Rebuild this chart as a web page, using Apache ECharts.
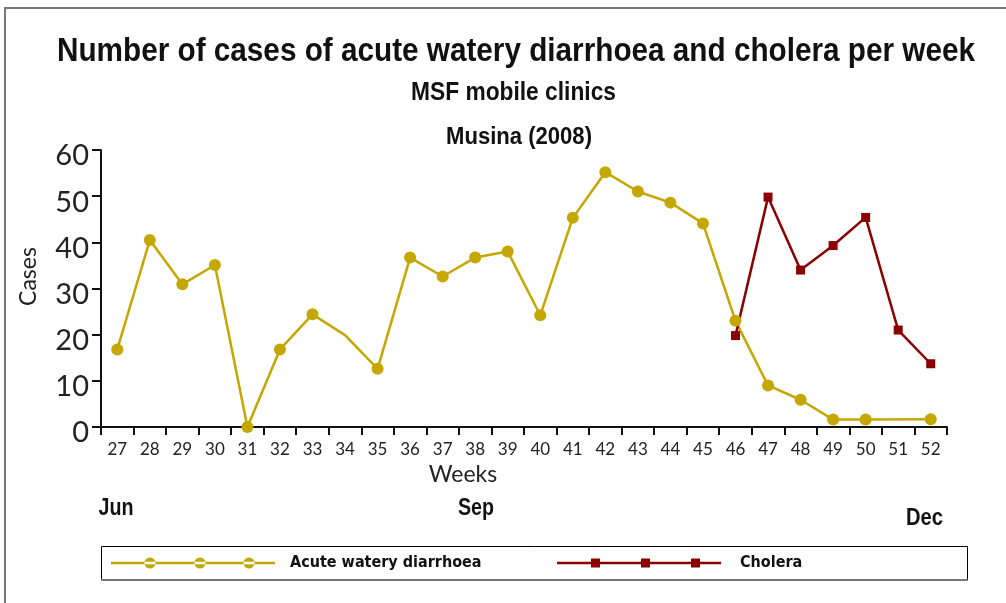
<!DOCTYPE html>
<html>
<head>
<meta charset="utf-8">
<script src="https://cdn.jsdelivr.net/npm/echarts@6/dist/echarts.min.js"></script>
<style>
html,body{margin:0;padding:0;background:#fff;}
#chart{width:1006px;height:603px;}
</style>
</head>
<body>
<div id="chart"></div>
<script>
// ---- data ----
const weeks = ['27','28','29','30','31','32','33','34','35','36','37','38','39','40','41','42','43','44','45','46','47','48','49','50','51','52'];
const acuteDiarrhoea = [16.8, 40.5, 30.9, 35.1, 0, 16.8, 24.4, 19.9, 12.6, 36.7, 32.6, 36.7, 38.0, 24.2, 45.3, 55.2, 51.0, 48.6, 44.1, 23.0, 9.0, 5.9, 1.6, 1.6, null, 1.7];
const acuteNoMarkerWeeks = ['34'];
const cholera = [null, null, null, null, null, null, null, null, null, null, null, null, null, null, null, null, null, null, null, 19.8, 49.8, 34.0, 39.3, 45.4, 21.0, 13.7];
const yTicks = [0, 10, 20, 30, 40, 50, 60];
const monthLabels = ['Jun', 'Sep', 'Dec'];

const titleText = 'Number of cases of acute watery diarrhoea and cholera per week';
const subText = 'MSF mobile clinics';
const placeText = 'Musina (2008)';
const seriesNames = ['Acute watery diarrhoea', 'Cholera'];

const COL_A = '#C4A700';
const COL_C = '#8B0000';
const BOLD = '"Liberation Sans", Arial, sans-serif';
const COND = '"DejaVu Sans Condensed", "DejaVu Sans", sans-serif';
const LIGHT = 'Lato, "Open Sans", sans-serif';

const chart = echarts.init(document.getElementById('chart'), null, {renderer: 'canvas'});

const acuteData = acuteDiarrhoea.map((v, i) =>
  acuteNoMarkerWeeks.includes(weeks[i]) ? {value: v, symbol: 'none'} : v);

// horizontal compression so a narrow-bold look is achieved with available fonts
const mctx = document.createElement('canvas').getContext('2d');
function narrowText(text, size, cx, baseline, targetW) {
  const font = 'bold ' + size + 'px ' + BOLD;
  mctx.font = font;
  const w = mctx.measureText(text).width;
  const s = targetW / w;
  return {type: 'text', x: cx, y: baseline - 0.77 * size, scaleX: s, silent: true,
    style: {text: text, font: font, fill: '#111', align: 'center', verticalAlign: 'top'}};
}

// legend icons (line with three markers)
const iconA = 'path://M0,5L164,5L164,7.5L0,7.5Z' +
  'M33.5,6.25a5.5,5.5 0 1,0 11,0a5.5,5.5 0 1,0 -11,0Z' +
  'M83.5,6.25a5.5,5.5 0 1,0 11,0a5.5,5.5 0 1,0 -11,0Z' +
  'M132.5,6.25a5.5,5.5 0 1,0 11,0a5.5,5.5 0 1,0 -11,0Z';
const iconC = 'path://M0,5L164,5L164,7.5L0,7.5Z' +
  'M34,1.75L43,1.75L43,10.75L34,10.75Z' +
  'M84,1.75L93,1.75L93,10.75L84,10.75Z' +
  'M134,1.75L143,1.75L143,10.75L134,10.75Z' +
  'M0,0.75L0.01,0.75L0.01,11.75L0,11.75Z';

const legendText = {fontFamily: COND, fontWeight: 'bold', fontSize: 16, color: '#111', lineHeight: 20};

const option = {
  backgroundColor: '#fff',
  animation: false,
  grid: {left: 101, right: 59, top: 150, bottom: 176, containLabel: false},
  legend: [
    {data: [{name: seriesNames[0], icon: iconA}], left: 111, top: 553, padding: 0,
     itemWidth: 164, itemHeight: 12, itemGap: 0, selectedMode: false,
     itemStyle: {borderWidth: 0},
     textStyle: Object.assign({padding: [0, 0, 0, 10]}, legendText)},
    {data: [{name: seriesNames[1], icon: iconC}], left: 557, top: 553, padding: 0,
     itemWidth: 164, itemHeight: 12, itemGap: 0, selectedMode: false,
     itemStyle: {borderWidth: 0},
     textStyle: Object.assign({padding: [0, 0, 0, 14]}, legendText)}
  ],
  xAxis: {
    type: 'category', data: weeks, boundaryGap: true,
    name: 'Weeks', nameLocation: 'middle', nameGap: 36,
    nameTextStyle: {fontFamily: LIGHT, fontSize: 23, color: '#222', padding: [0, 122, 0, 0]},
    axisLine: {lineStyle: {color: '#111', width: 2}},
    axisTick: {show: true, length: 8, inside: false, alignWithLabel: false, lineStyle: {color: '#111', width: 2}},
    axisLabel: {fontFamily: LIGHT, fontSize: 17, color: '#222', margin: 14, interval: 0},
    splitLine: {show: false}
  },
  yAxis: {
    type: 'value', min: 0, max: 60, interval: 10,
    name: 'Cases', nameLocation: 'middle', nameGap: 61, nameRotate: 90,
    nameTextStyle: {fontFamily: LIGHT, fontSize: 23, color: '#222', padding: [0, 0, 0, 24]},
    axisLine: {show: true, lineStyle: {color: '#111', width: 2}},
    axisTick: {show: true, length: 9, inside: false, lineStyle: {color: '#111', width: 2}},
    axisLabel: {fontFamily: LIGHT, fontSize: 29, color: '#222', margin: 12,
      formatter: v => yTicks.includes(v) ? '{d|' + v + '}' : '',
      rich: {d: {fontFamily: LIGHT, fontSize: 29, color: '#222', padding: [12, 0, 0, 0]}}},
    splitLine: {show: false}
  },
  series: [
    {name: seriesNames[0], type: 'line', data: acuteData, connectNulls: true,
     symbol: 'circle', symbolSize: 12, showAllSymbol: true,
     lineStyle: {color: COL_A, width: 2.5}, itemStyle: {color: COL_A}},
    {name: seriesNames[1], type: 'line', data: cholera, connectNulls: false,
     symbol: 'rect', symbolSize: 9, showAllSymbol: true,
     lineStyle: {color: COL_C, width: 2.5}, itemStyle: {color: COL_C}}
  ],
  graphic: [
    {type: 'rect', x: 5, y: 8, silent: true, z: -10,
     shape: {width: 1100, height: 700}, style: {fill: 'none', stroke: '#777', lineWidth: 2}},
    {type: 'rect', x: 101.5, y: 546.5, silent: true, z: -5,
     shape: {width: 866, height: 33}, style: {fill: '#fff', stroke: '#000', lineWidth: 1}},
    {type: 'line', silent: true, z: -4,
     shape: {x1: 101, y1: 580, x2: 968, y2: 580}, style: {stroke: '#777', lineWidth: 2}},
    narrowText(titleText, 33, 516, 61, 918),
    narrowText(subText, 26, 513.5, 100, 205),
    narrowText(placeText, 23, 519, 144, 146),
    narrowText(monthLabels[0], 23, 116, 515, 35),
    narrowText(monthLabels[1], 23, 476, 515, 36),
    narrowText(monthLabels[2], 23, 924.5, 525, 37)
  ]
};
chart.setOption(option);
</script>
</body>
</html>
